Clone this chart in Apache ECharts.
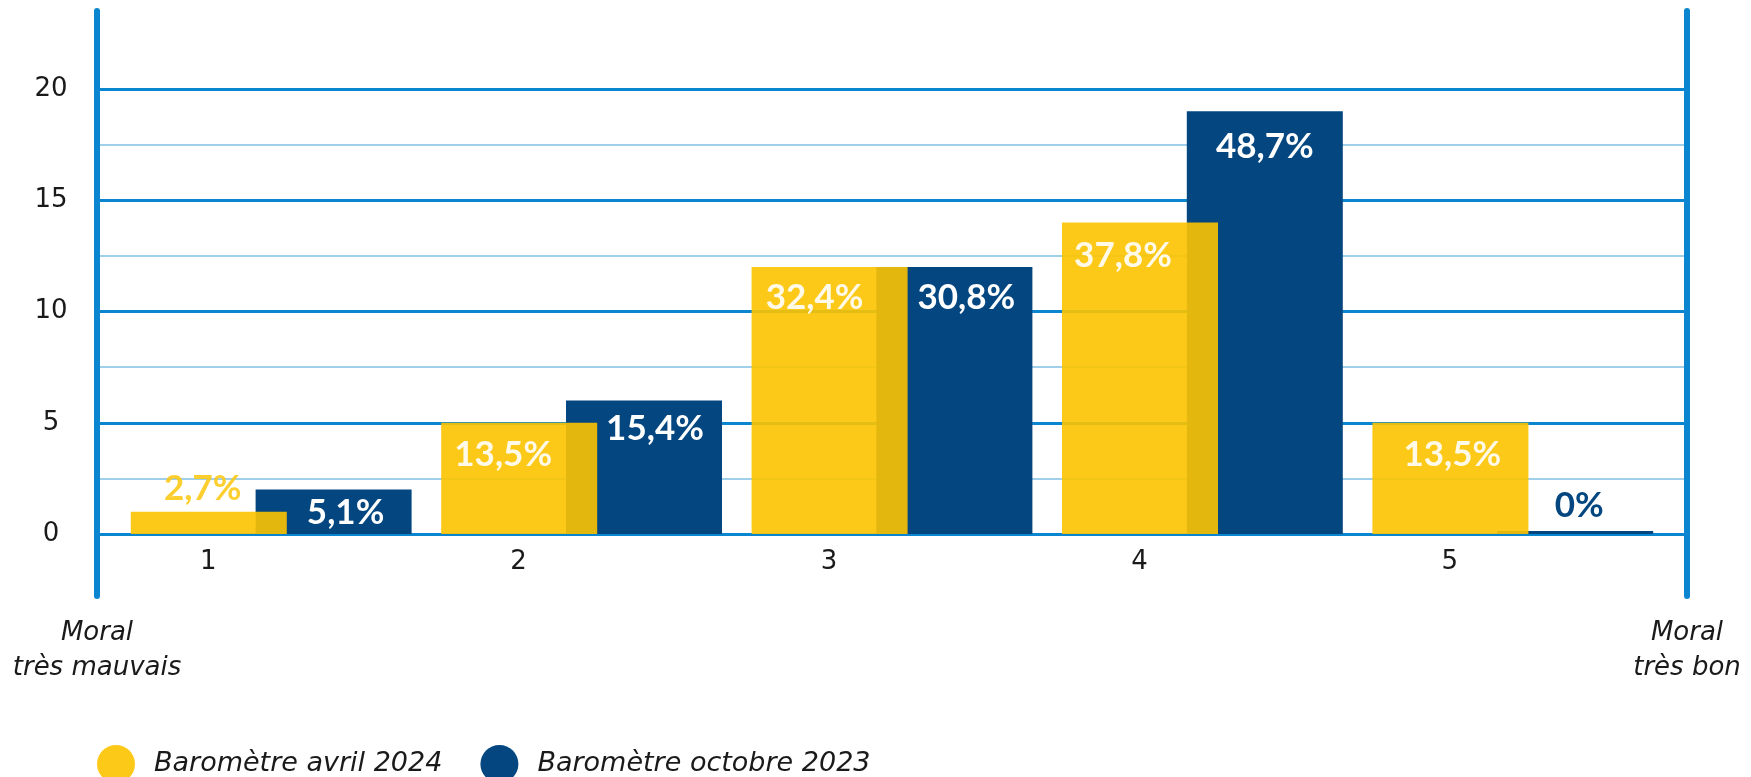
<!DOCTYPE html>
<html>
<head>
<meta charset="utf-8">
<script src="https://cdn.jsdelivr.net/npm/echarts@6/dist/echarts.min.js"></script>
<style>
  html, body { margin: 0; padding: 0; background: #fff; }
  #chart { width: 1751px; height: 777px; }
</style>
</head>
<body>
<div id="chart"></div>
<script>
// categories (note de moral 1 -> 5)
var categories = ['1', '2', '3', '4', '5']
// nombre de répondants par note
var avril2024 = [1, 5, 12, 14, 5]
var octobre2023 = [2, 6, 12, 19, 0]
// pourcentages affichés sur les barres
var pctAvril2024 = ['2,7%', '13,5%', '32,4%', '37,8%', '13,5%']
var pctOctobre2023 = ['5,1%', '15,4%', '30,8%', '48,7%', '0%']
var seriesNames = ['Baromètre avril 2024', 'Baromètre octobre 2023']
var yTicks = [0, 20, 5]   // min, max, interval

var YELLOW = '#fcc300'
var NAVY = '#034680'
var BLUE = '#0a86d1'
var LIGHT = '#9fcfeb'
var FONT = 'DejaVu Sans'

// label placement per bar (kept apart from the data)
var avrilLabelPos = [
  { position: 'top', dx: -6, dist: 6, color: '#fcc917' },
  { position: 'insideTop', dx: -16, dist: 14 },
  { position: 'insideTop', dx: -15, dist: 13 },
  { position: 'insideTop', dx: -17, dist: 16 },
  { position: 'insideTop', dx: 2, dist: 14 }
]
var octobreLabelPos = [
  { position: 'insideTop', dx: 12, dist: 6 },
  { position: 'insideTop', dx: 11, dist: 11 },
  { position: 'insideTop', dx: 12, dist: 13 },
  { position: 'insideTop', dx: 0, dist: 18 },
  { position: 'top', dx: 4, dist: 8, color: NAVY }
]

function buildData (values, texts, pos) {
  return values.map(function (v, i) {
    var p = pos[i]
    return {
      value: v,
      label: {
        position: p.position,
        distance: p.dist,
        offset: [p.dx, 0],
        color: p.color || '#ffffff',
        formatter: texts[i]
      }
    }
  })
}

var labelFont = {
  show: true,
  fontFamily: 'Lato',
  fontWeight: 'bold',
  fontSize: 35
}

var nameStyle = {
  fontFamily: FONT,
  fontStyle: 'italic',
  fontSize: 26,
  lineHeight: 35,
  color: '#1a1a1a',
  align: 'center',
  verticalAlign: 'top'
}

var chart = echarts.init(document.getElementById('chart'))
var option = {
  animation: false,
  backgroundColor: '#ffffff',
  grid: [
    // grille décorative (lignes horizontales + graduations)
    { left: 97, right: 64, top: 89, bottom: 243, containLabel: false },
    // grille des barres
    { left: 116, right: 83, top: 89, bottom: 243, containLabel: false },
    // les deux montants verticaux
    { left: 97, right: 64, top: 11, bottom: 181, containLabel: false }
  ],
  legend: {
    left: 97,
    top: 745,
    padding: 0,
    itemWidth: 38,
    itemHeight: 38,
    itemGap: 38,
    icon: 'circle',
    textStyle: {
      fontFamily: FONT,
      fontStyle: 'italic',
      fontSize: 27,
      color: '#1a1a1a',
      padding: [0, 0, 0, 14]
    },
    data: seriesNames
  },
  xAxis: [
    { gridIndex: 0, type: 'value', show: false },
    {
      gridIndex: 1,
      type: 'category',
      data: categories,
      axisLine: { show: false },
      axisTick: { show: false },
      axisLabel: {
        margin: 15,
        fontFamily: FONT,
        fontSize: 26,
        color: '#1a1a1a',
        padding: [0, 126, 0, 0]
      }
    },
    { gridIndex: 2, type: 'value', show: false }
  ],
  yAxis: [
    {
      gridIndex: 0,
      type: 'value',
      min: yTicks[0],
      max: yTicks[1],
      interval: yTicks[2],
      axisLine: { show: false },
      axisTick: { show: false },
      axisLabel: {
        margin: 26,
        formatter: '{a|{value}}',
        rich: {
          a: { width: 40, align: 'center', fontFamily: FONT, fontSize: 26, color: '#1a1a1a' }
        }
      },
      splitLine: { show: true, lineStyle: { color: BLUE, width: 3 } },
      minorTick: { show: false, splitNumber: 2 },
      minorSplitLine: { show: true, lineStyle: { color: LIGHT, width: 2 } }
    },
    {
      gridIndex: 1,
      type: 'value',
      min: yTicks[0],
      max: yTicks[1],
      show: false
    },
    {
      gridIndex: 2,
      type: 'value',
      position: 'left',
      axisLine: { show: true, lineStyle: { color: BLUE, width: 6 } },
      axisTick: { show: false },
      axisLabel: { show: false },
      splitLine: { show: false },
      name: 'Moral\ntrès mauvais',
      nameLocation: 'start',
      nameGap: 20,
      nameTextStyle: nameStyle
    },
    {
      gridIndex: 2,
      type: 'value',
      position: 'right',
      axisLine: { show: true, lineStyle: { color: BLUE, width: 6 } },
      axisTick: { show: false },
      axisLabel: { show: false },
      splitLine: { show: false },
      name: 'Moral\ntrès bon',
      nameLocation: 'start',
      nameGap: 20,
      nameTextStyle: nameStyle
    }
  ],
  series: [
    {
      name: seriesNames[0],
      type: 'bar',
      xAxisIndex: 1,
      yAxisIndex: 1,
      barWidth: 156,
      barGap: '-20%',
      z: 4,
      itemStyle: { color: YELLOW, opacity: 0.9 },
      label: labelFont,
      data: buildData(avril2024, pctAvril2024, avrilLabelPos)
    },
    {
      name: seriesNames[1],
      type: 'bar',
      xAxisIndex: 1,
      yAxisIndex: 1,
      barWidth: 156,
      barGap: '-20%',
      barMinHeight: 3,
      z: 3,
      itemStyle: { color: NAVY },
      label: labelFont,
      data: buildData(octobre2023, pctOctobre2023, octobreLabelPos)
    }
  ]
}
chart.setOption(option)
</script>
</body>
</html>
